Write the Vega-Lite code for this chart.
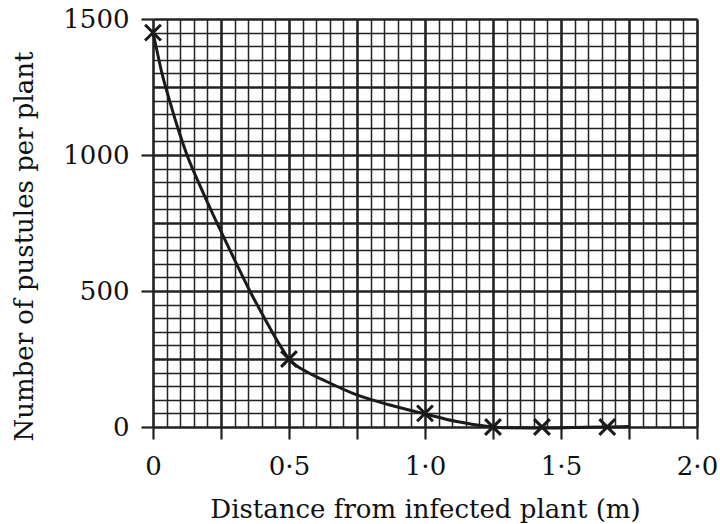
{
  "$schema": "https://vega.github.io/schema/vega-lite/v6.json",
  "width": 544,
  "height": 408,
  "autosize": "none",
  "padding": {"left": 153, "top": 19, "right": 23, "bottom": 97},
  "background": "white",
  "config": {"view": {"stroke": null}, "font": "DejaVu Serif"},
  "datasets": {
    "curve": [
      {"distance": 0, "pustules": 1450},
      {"distance": 0.011, "pustules": 1400},
      {"distance": 0.033, "pustules": 1300},
      {"distance": 0.061, "pustules": 1200},
      {"distance": 0.091, "pustules": 1100},
      {"distance": 0.125, "pustules": 1000},
      {"distance": 0.167, "pustules": 900},
      {"distance": 0.212, "pustules": 800},
      {"distance": 0.259, "pustules": 700},
      {"distance": 0.307, "pustules": 600},
      {"distance": 0.356, "pustules": 500},
      {"distance": 0.41, "pustules": 400},
      {"distance": 0.467, "pustules": 300},
      {"distance": 0.5, "pustules": 250},
      {"distance": 0.565, "pustules": 203},
      {"distance": 0.626, "pustules": 173},
      {"distance": 0.749, "pustules": 118},
      {"distance": 0.871, "pustules": 81},
      {"distance": 1.0, "pustules": 48},
      {"distance": 1.117, "pustules": 20},
      {"distance": 1.233, "pustules": 2},
      {"distance": 1.3, "pustules": -3},
      {"distance": 1.43, "pustules": -4},
      {"distance": 1.55, "pustules": -2},
      {"distance": 1.67, "pustules": 0},
      {"distance": 1.75, "pustules": 2}
    ],
    "points": [
      {"distance": 0, "pustules": 1450},
      {"distance": 0.5, "pustules": 250},
      {"distance": 1.0, "pustules": 50},
      {"distance": 1.25, "pustules": 0},
      {"distance": 1.43, "pustules": 0},
      {"distance": 1.67, "pustules": 0}
    ]
  },
  "encoding": {
    "x": {
      "field": "distance",
      "type": "quantitative",
      "scale": {"domain": [0, 2], "nice": false, "zero": false},
      "axis": {
        "title": "Distance from infected plant (m)",
        "values": [0,0.05,0.1,0.15,0.2,0.25,0.3,0.35,0.4,0.45,0.5,0.55,0.6,0.65,0.7,0.75,0.8,0.85,0.9,0.95,1,1.05,1.1,1.15,1.2,1.25,1.3,1.35,1.4,1.45,1.5,1.55,1.6,1.65,1.7,1.75,1.8,1.85,1.9,1.95,2],
        "grid": true,
        "domain": false,
        "gridColor": "#222222",
        "gridOpacity": 1,
        "gridWidth": {"condition": {"test": "abs(datum.value*4-round(datum.value*4))<0.01", "value": 2.6}, "value": 1.5},
        "tickSize": 12,
        "tickWidth": 2.2,
        "tickColor": "#222222",
        "tickOpacity": {"condition": {"test": "abs(datum.value*4-round(datum.value*4))<0.01", "value": 1}, "value": 0},
        "labelExpr": "abs(datum.value*2-round(datum.value*2))<0.01 ? (datum.value < 0.01 ? '0' : replace(format(datum.value,'.1f'),'.','·')) : ''",
        "labelOverlap": false,
        "labelFlush": false,
        "labelFont": "DejaVu Serif",
        "labelFontSize": 26,
        "labelColor": "#111111",
        "labelPadding": 14,
        "titleFont": "DejaVu Serif",
        "titleFontSize": 26,
        "titleFontWeight": "normal",
        "titleColor": "#111111",
        "titlePadding": 17
      }
    },
    "y": {
      "field": "pustules",
      "type": "quantitative",
      "scale": {"domain": [0, 1500], "nice": false, "zero": false},
      "axis": {
        "title": "Number of pustules per plant",
        "values": [0,50,100,150,200,250,300,350,400,450,500,550,600,650,700,750,800,850,900,950,1000,1050,1100,1150,1200,1250,1300,1350,1400,1450,1500],
        "grid": true,
        "domain": false,
        "gridColor": "#222222",
        "gridOpacity": 1,
        "gridWidth": {"condition": {"test": "datum.value % 250 == 0", "value": 2.6}, "value": 1.5},
        "tickSize": 12,
        "tickWidth": 2.2,
        "tickColor": "#222222",
        "tickOpacity": {"condition": {"test": "datum.value % 500 == 0", "value": 1}, "value": 0},
        "labelExpr": "datum.value % 500 == 0 ? format(datum.value,'d') : ''",
        "labelOverlap": false,
        "labelFlush": false,
        "labelFont": "DejaVu Serif",
        "labelFontSize": 26,
        "labelColor": "#111111",
        "labelPadding": 12,
        "titleFont": "DejaVu Serif",
        "titleFontSize": 26,
        "titleFontWeight": "normal",
        "titleColor": "#111111",
        "titlePadding": 25,
        "titleY": 227
      }
    }
  },
  "layer": [
    {
      "data": {"name": "curve"},
      "mark": {"type": "line", "interpolate": "monotone", "color": "#1a1a1a", "strokeWidth": 3, "clip": false}
    },
    {
      "data": {"name": "points"},
      "mark": {"type": "point", "shape": "M-1,-1L1,1M-1,1L1,-1", "filled": false, "size": 250, "strokeWidth": 3, "color": "#1a1a1a", "opacity": 1}
    }
  ]
}
